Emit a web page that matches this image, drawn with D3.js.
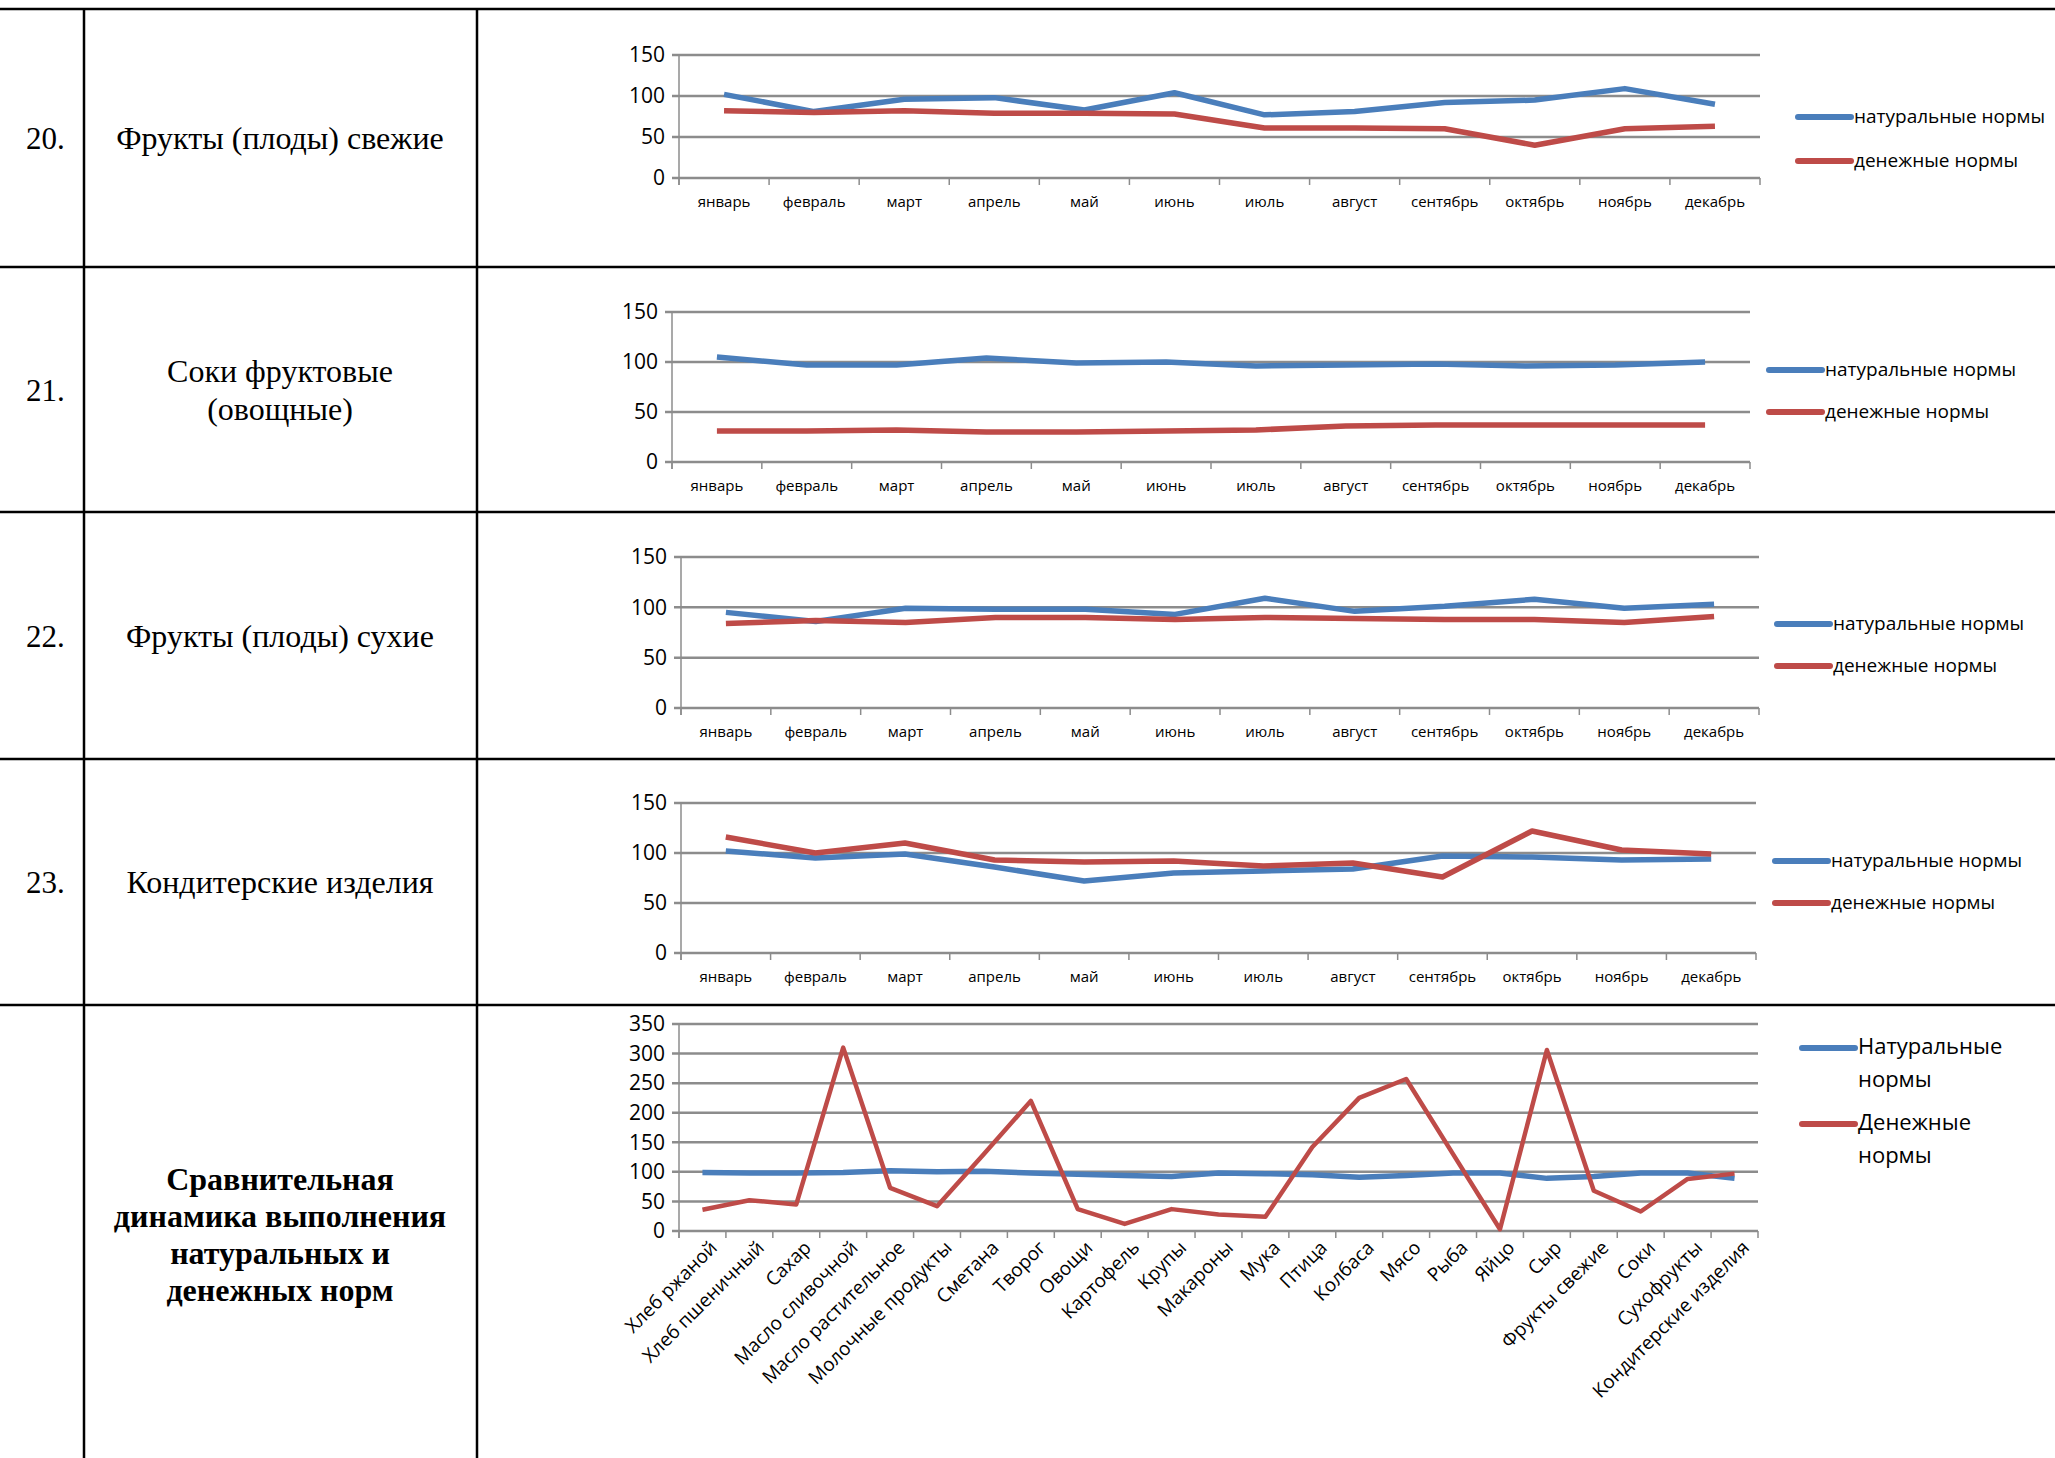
<!DOCTYPE html>
<html><head><meta charset="utf-8">
<script src="https://cdn.jsdelivr.net/npm/d3@7"></script>
<style>body{margin:0;background:#fff}</style>
</head><body>
<svg id="canvas" width="2055" height="1458"></svg>
<script>
let months = ['январь','февраль','март','апрель','май','июнь','июль','август','сентябрь','октябрь','ноябрь','декабрь']
let products = ['Хлеб ржаной','Хлеб пшеничный','Сахар','Масло сливочной','Масло растительное','Молочные продукты','Сметана','Творог','Овощи','Картофель','Крупы','Макароны','Мука','Птица','Колбаса','Мясо','Рыба','Яйцо','Сыр','Фрукты свежие','Соки','Сухофрукты','Кондитерские изделия']

let fruitNat = [102, 81, 96, 98, 83, 104, 77, 81, 92, 95, 109, 90]
let fruitMon = [82, 80, 82, 79, 79, 78, 61, 61, 60, 40, 60, 63]
let juiceNat = [105, 97, 97, 104, 99, 100, 96, 97, 98, 96, 97, 100]
let juiceMon = [31, 31, 32, 30, 30, 31, 32, 36, 37, 37, 37, 37]
let dryNat = [95, 86, 99, 98, 98, 93, 109, 96, 101, 108, 99, 103]
let dryMon = [84, 87, 85, 90, 90, 88, 90, 89, 88, 88, 85, 91]
let sweetNat = [102, 95, 99, 86, 72, 80, 82, 84, 97, 96, 93, 94]
let sweetMon = [116, 100, 110, 93, 91, 92, 87, 90, 76, 122, 103, 99]
let totalNat = [99, 98, 98, 99, 102, 100, 101, 98, 96, 94, 92, 98, 97, 95, 91, 94, 98, 98, 89, 92, 98, 98, 89]
let totalMon = [36, 52, 45, 310, 73, 42, 130, 220, 37, 12, 37, 28, 24, 142, 225, 257, 130, 3, 306, 68, 33, 88, 97]

let rowNums = ['20.', '21.', '22.', '23.']
let rowTitles = [['Фрукты (плоды) свежие'], ['Соки фруктовые', '(овощные)'], ['Фрукты (плоды) сухие'], ['Кондитерские изделия']]
let lastTitle = ['Сравнительная', 'динамика выполнения', 'натуральных и', 'денежных норм']

let svg = d3.select('#canvas')
let blue = '#4a7ebb', red = '#be4b48', grid = '#8c8c8c'

// table
let hLines = [9, 267, 512, 759, 1005]
hLines.forEach(y => {
    svg.append('line').attr('x1', 0).attr('x2', 2055).attr('y1', y).attr('y2', y)
       .attr('stroke', '#000').attr('stroke-width', 2.5)
})
;[84, 477].forEach(x => {
    svg.append('line').attr('x1', x).attr('x2', x).attr('y1', 9).attr('y2', 1458)
       .attr('stroke', '#000').attr('stroke-width', 2.5)
})
rowNums.forEach((n, i) => {
    let cy = (hLines[i] + hLines[i + 1]) / 2
    svg.append('text').text(n).attr('x', 26).attr('y', cy + 11)
       .attr('font-family', 'Liberation Serif').attr('font-size', 31)
    let lines = rowTitles[i]
    lines.forEach((t, j) => {
        svg.append('text').text(t).attr('x', 280).attr('y', cy + 11 + (j - (lines.length - 1) / 2) * 38)
           .attr('text-anchor', 'middle').attr('font-family', 'Liberation Serif').attr('font-size', 32)
    })
})
lastTitle.forEach((t, j) => {
    svg.append('text').text(t).attr('x', 280).attr('y', 1190 + j * 37)
       .attr('text-anchor', 'middle').attr('font-family', 'Liberation Serif')
       .attr('font-weight', 'bold').attr('font-size', 32)
})

let drawChart = (cfg) => {
    let g = svg.append('g')
    let x = d3.scaleBand().domain(cfg.cats).range([cfg.x0, cfg.x1])
    let y = d3.scaleLinear().domain([0, cfg.max]).range([cfg.y0, cfg.yTop])
    let ticks = d3.range(0, cfg.max + 1, 50)

    ticks.forEach(t => {
        g.append('line').attr('x1', cfg.x0 - 7).attr('x2', cfg.x1).attr('y1', y(t)).attr('y2', y(t))
         .attr('stroke', grid).attr('stroke-width', 2.5)
    })
    g.append('line').attr('x1', cfg.x0).attr('x2', cfg.x0).attr('y1', y(cfg.max)).attr('y2', cfg.y0 + 7)
     .attr('stroke', grid).attr('stroke-width', 1.5)
    let edges = cfg.cats.map(c => x(c)).concat([cfg.x1])
    edges.forEach(e => {
        g.append('line').attr('x1', e).attr('x2', e).attr('y1', cfg.y0).attr('y2', cfg.y0 + 7)
         .attr('stroke', grid).attr('stroke-width', 1.5)
    })

    let yAxis = d3.axisLeft(y).tickValues(ticks).tickSize(0).tickPadding(14)
    g.append('g').attr('transform', 'translate(' + cfg.x0 + ',0)').call(yAxis)
     .call(a => a.select('.domain').remove())
     .selectAll('text').attr('font-family', 'Open Sans').attr('font-size', 21).attr('fill', '#000')

    let xAxis = d3.axisBottom(x).tickSize(0).tickPadding(cfg.rotate ? 14 : 18)
    let xa = g.append('g').attr('transform', 'translate(0,' + cfg.y0 + ')').call(xAxis)
    xa.select('.domain').remove()
    let xt = xa.selectAll('text').attr('font-family', 'Open Sans').attr('font-size', cfg.rotate ? 19 : 15).attr('fill', '#000')
    if (cfg.rotate) {
        xt.attr('text-anchor', 'end').attr('dy', '0.3em')
          .attr('transform', 'translate(2,4) rotate(-45)')
    }

    let line = d3.line().x((d, i) => x(cfg.cats[i]) + x.bandwidth() / 2).y(d => y(d))
    cfg.series.forEach(s => {
        g.append('path').datum(s.values).attr('d', line).attr('fill', 'none')
         .attr('stroke', s.color).attr('stroke-width', s.width).attr('stroke-linejoin', 'round')
    })

    let gap = cfg.legendGap || 0
    cfg.series.forEach((s, i) => {
        let ly = cfg.legendY[i]
        g.append('line').attr('x1', cfg.legendX).attr('x2', cfg.legendX + 53).attr('y1', ly).attr('y2', ly)
         .attr('stroke', s.color).attr('stroke-width', 6).attr('stroke-linecap', 'round')
        s.label.forEach((t, j) => {
            g.append('text').text(t).attr('x', cfg.legendX + 56).attr('y', ly + 6 + j * gap)
             .attr('font-family', 'Open Sans').attr('font-size', cfg.legendSize)
        })
    })
}

let pair = (nat, mon) => [
    {values: nat, color: blue, width: 5.5, label: ['натуральные нормы']},
    {values: mon, color: red, width: 5.5, label: ['денежные нормы']}
]

drawChart({cats: months, max: 150, x0: 679, x1: 1760, yTop: 55, y0: 178, series: pair(fruitNat, fruitMon),
           legendX: 1798, legendY: [117, 161], legendSize: 19})
drawChart({cats: months, max: 150, x0: 672, x1: 1750, yTop: 312, y0: 462, series: pair(juiceNat, juiceMon),
           legendX: 1769, legendY: [370, 412], legendSize: 19})
drawChart({cats: months, max: 150, x0: 681, x1: 1759, yTop: 557, y0: 708, series: pair(dryNat, dryMon),
           legendX: 1777, legendY: [624, 666], legendSize: 19})
drawChart({cats: months, max: 150, x0: 681, x1: 1756, yTop: 803, y0: 953, series: pair(sweetNat, sweetMon),
           legendX: 1775, legendY: [861, 903], legendSize: 19})
drawChart({cats: products, max: 350, x0: 679, x1: 1758, yTop: 1024, y0: 1231, rotate: true,
           series: [
               {values: totalNat, color: blue, width: 5.5, label: ['Натуральные', 'нормы']},
               {values: totalMon, color: red, width: 4.5, label: ['Денежные', 'нормы']}
           ],
           legendX: 1802, legendY: [1048, 1124], legendSize: 22, legendGap: 33})
</script>
</body></html>
